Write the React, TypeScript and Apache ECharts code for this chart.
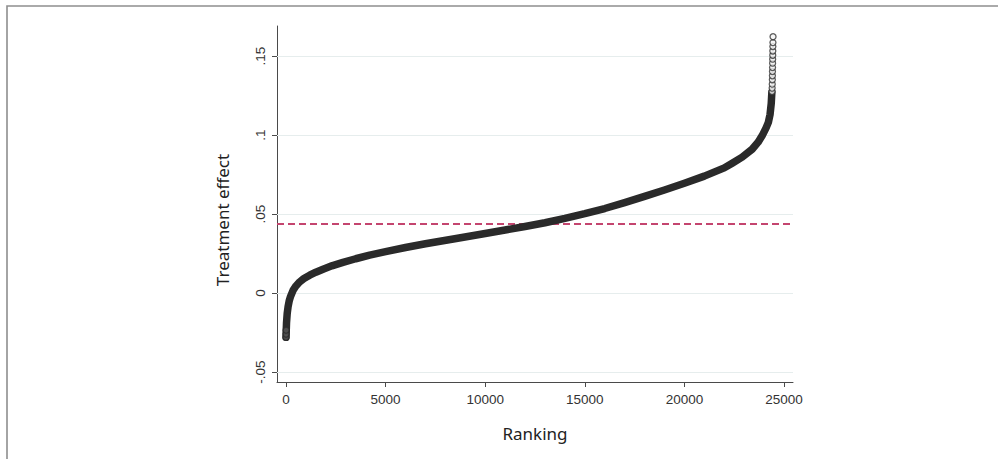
import React, { useEffect, useRef } from "react";
import * as echarts from "echarts";

// Dense part of the ranked treatment-effect curve
const ranks = [
  0, 10, 25, 60, 105, 160, 225, 360, 500, 690, 900, 1190, 1500, 1860, 2300,
  2860, 3500, 4200, 5000, 6000, 7000, 8545, 10000, 11000, 12000, 13000, 14000,
  15000, 16000, 17000, 18000, 19000, 20000, 21000, 22000, 22400, 22900, 23400,
  23700, 23900, 24100, 24215, 24300, 24360, 24390,
];
const effects = [
  -0.028, -0.0245, -0.019, -0.013, -0.0086, -0.005, -0.0023, 0.0019, 0.0045,
  0.0071, 0.0092, 0.0113, 0.0132, 0.0151, 0.0172, 0.0194, 0.0217, 0.024,
  0.0262, 0.0288, 0.0312, 0.0345, 0.0377, 0.0399, 0.0421, 0.0445, 0.0472,
  0.0502, 0.0535, 0.0572, 0.0612, 0.0652, 0.0695, 0.074, 0.0792, 0.0822,
  0.086, 0.091, 0.0955, 0.0995, 0.1045, 0.108, 0.113, 0.12, 0.127,
];

// Sparse upper tail, individual hollow markers
const tailRanks = [
  24400, 24405, 24410, 24415, 24418, 24421, 24425, 24428, 24431, 24435, 24438,
  24441, 24445, 24450,
];
const tailEffects = [
  0.1275, 0.1297, 0.1322, 0.135, 0.1375, 0.1402, 0.1427, 0.1455, 0.148,
  0.1505, 0.1532, 0.156, 0.1585, 0.1622,
];

// Sparse lower tail
const lowRanks = [0, 3, 6];
const lowEffects = [-0.028, -0.026, -0.0235];

const averageEffect = 0.044;

const xTicks = [0, 5000, 10000, 15000, 20000, 25000];
const xTickLabels = ["0", "5000", "10000", "15000", "20000", "25000"];
const yTicks = [-0.05, 0, 0.05, 0.1, 0.15];
const yTickLabels = ["-.05", "0", ".05", ".1", ".15"];

const xRange = [-452, 25452];
const yRange = [-0.0563, 0.169];

function labelFor(ticks: number[], labels: string[], v: number): string {
  let best = 0;
  for (let i = 1; i < ticks.length; i++) {
    if (Math.abs(ticks[i] - v) < Math.abs(ticks[best] - v)) best = i;
  }
  return labels[best];
}

export default function App() {
  const ref = useRef<HTMLDivElement>(null);

  useEffect(() => {
    document.body.style.margin = "0";
    if (!ref.current) return;
    const chart = echarts.init(ref.current, undefined, { renderer: "svg" });

    const axisColor = "#4a4a4a";
    const tickFont = {
      fontFamily: "Liberation Sans, Arial, sans-serif",
      fontSize: 13.5,
      color: "#333",
    };
    const titleFont = {
      fontFamily: "Noto Sans, Open Sans, sans-serif",
      fontSize: 17,
      color: "#222",
    };

    chart.setOption({
      animation: false,
      backgroundColor: "#fff",
      grid: {
        left: 277,
        right: 205,
        top: 26,
        bottom: 77,
        containLabel: false,
        outerBoundsMode: "none",
      },
      graphic: [
        {
          type: "rect",
          silent: true,
          z: -10,
          shape: { x: 7, y: 6, width: 1100, height: 600 },
          style: { fill: "none", stroke: "#8e8e8e", lineWidth: 1.6 },
        },
      ],
      xAxis: {
        type: "value",
        min: xRange[0],
        max: xRange[1],
        name: "Ranking",
        nameLocation: "middle",
        nameGap: 43,
        nameTextStyle: titleFont,
        axisLine: { show: true, onZero: false, lineStyle: { color: axisColor, width: 1 } },
        axisTick: {
          show: true,
          length: 5,
          customValues: xTicks,
          lineStyle: { color: axisColor, width: 1 },
        },
        axisLabel: {
          ...tickFont,
          customValues: xTicks,
          margin: 10,
          formatter: (v: number) => labelFor(xTicks, xTickLabels, v),
        },
        splitLine: { show: false },
      },
      yAxis: {
        type: "value",
        min: yRange[0],
        max: yRange[1],
        name: "Treatment effect",
        nameLocation: "middle",
        nameGap: 46,
        nameTextStyle: { ...titleFont, padding: [0, 32, 0, 0] },
        axisLine: { show: true, onZero: false, lineStyle: { color: axisColor, width: 1 } },
        axisTick: {
          show: true,
          length: 5,
          customValues: yTicks,
          lineStyle: { color: axisColor, width: 1 },
        },
        axisLabel: {
          ...tickFont,
          customValues: yTicks,
          rotate: 90,
          margin: 10,
          formatter: (v: number) => labelFor(yTicks, yTickLabels, v),
        },
        splitLine: { show: false },
      },
      series: [
        {
          type: "line",
          name: "grid",
          data: [],
          silent: true,
          z: 1,
          markLine: {
            silent: true,
            precision: 6,
            symbol: ["none", "none"],
            label: { show: false },
            lineStyle: { color: "#e6eded", width: 1, type: "solid" },
            data: yTicks.map((v) => ({ yAxis: v })),
          },
        },
        {
          type: "line",
          name: "average",
          data: [],
          silent: true,
          z: 2,
          markLine: {
            silent: true,
            precision: 6,
            symbol: ["none", "none"],
            label: { show: false },
            lineStyle: { color: "#c4456f", width: 2, type: [7, 4] },
            data: [{ yAxis: averageEffect }],
          },
        },
        {
          type: "line",
          name: "effect",
          data: ranks.map((r, i) => [r, effects[i]]),
          showSymbol: false,
          smooth: false,
          z: 5,
          lineStyle: { color: "#2a2a2a", width: 7.5, cap: "round", join: "round" },
        },
        {
          type: "scatter",
          name: "tail",
          data: tailRanks.map((r, i) => [r, tailEffects[i]]),
          symbol: "circle",
          symbolSize: 6,
          z: 6,
          itemStyle: { color: "#f4f4f4", borderColor: "#333", borderWidth: 1.3 },
        },
        {
          type: "scatter",
          name: "low",
          data: lowRanks.map((r, i) => [r, lowEffects[i]]),
          symbol: "circle",
          symbolSize: 6,
          z: 6,
          itemStyle: { color: "#555", borderColor: "#2a2a2a", borderWidth: 1.3 },
        },
      ],
    });

    return () => chart.dispose();
  }, []);

  return <div ref={ref} style={{ width: 998, height: 459 }} />;
}
